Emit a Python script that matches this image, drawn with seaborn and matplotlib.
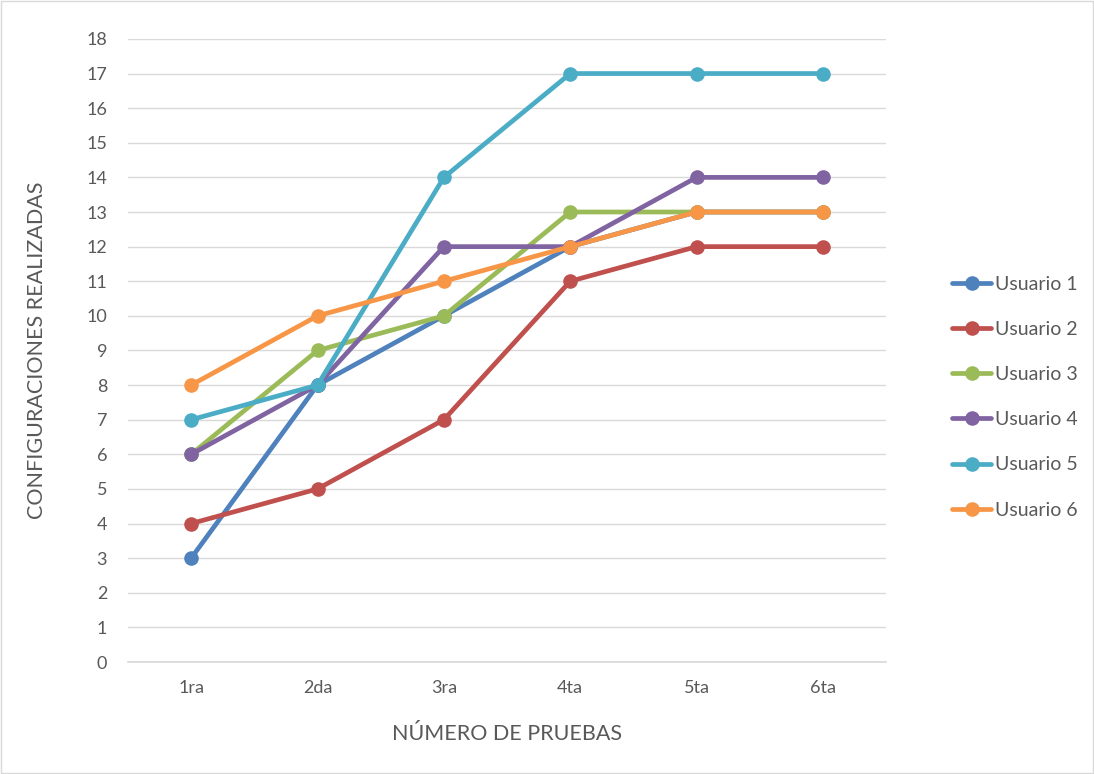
import numpy as np
import pandas as pd
import matplotlib.pyplot as plt
import seaborn as sns

# Data
pruebas = ['1ra', '2da', '3ra', '4ta', '5ta', '6ta']
usuario_1 = [3, 8, 10, 12, 13, 13]
usuario_2 = [4, 5, 7, 11, 12, 12]
usuario_3 = [6, 9, 10, 13, 13, 13]
usuario_4 = [6, 8, 12, 12, 14, 14]
usuario_5 = [7, 8, 14, 17, 17, 17]
usuario_6 = [8, 10, 11, 12, 13, 13]
series_names = ['Usuario 1', 'Usuario 2', 'Usuario 3', 'Usuario 4', 'Usuario 5', 'Usuario 6']
colors = ['#4F81BD', '#C0504D', '#9BBB59', '#8064A2', '#4BACC6', '#F79646']

sns.set_theme(style="white")
plt.rcParams['font.family'] = ['Lato', 'DejaVu Sans']

rows = []
for name, vals in zip(series_names, [usuario_1, usuario_2, usuario_3, usuario_4, usuario_5, usuario_6]):
    for p, v in zip(pruebas, vals):
        rows.append({'Prueba': p, 'Valor': v, 'Serie': name})
df = pd.DataFrame(rows)

fig = plt.figure(figsize=(10.94, 7.74), dpi=100)
ax = fig.add_axes([0.117, 0.1447, 0.693, 0.805])

sns.lineplot(data=df, x='Prueba', y='Valor', hue='Serie', palette=colors,
             marker='o', markersize=10.5, markeredgewidth=0, linewidth=3.4,
             ax=ax, legend=False, sort=False)

ax.set_ylim(0, 18)
ax.set_xlim(-0.5, 5.5)
ax.set_yticks(range(0, 19))
ax.yaxis.grid(True, color='#D9D9D9', linewidth=1)
ax.xaxis.grid(False)
for s in ['top', 'right', 'left']:
    ax.spines[s].set_visible(False)
ax.spines['bottom'].set_color('#D9D9D9')
ax.tick_params(axis='both', colors='#595959', labelsize=13, length=0)
ax.tick_params(axis='x', pad=13)
ax.tick_params(axis='y', pad=15)
ax.set_xlabel('NÚMERO DE PRUEBAS', fontsize=15.5, color='#595959', labelpad=20)
ax.set_ylabel('CONFIGURACIONES REALIZADAS', fontsize=15.5, color='#595959', labelpad=28)

handles = [plt.Line2D([0], [0], color=c, linewidth=3.4, marker='o', markersize=10.5,
                      markeredgewidth=0) for c in colors]
leg = fig.legend(handles, series_names, loc='center left', bbox_to_anchor=(0.8705, 0.487),
                 frameon=False, fontsize=14, labelspacing=1.45, handlelength=2.0,
                 handletextpad=0.2, borderaxespad=0, borderpad=0)
for t in leg.get_texts():
    t.set_color('#595959')

fig.patches.append(plt.Rectangle((0.001, 0.001), 0.998, 0.998, transform=fig.transFigure,
                                 fill=False, edgecolor='#D9D9D9', linewidth=1))

fig.savefig('out.png', dpi=100)
